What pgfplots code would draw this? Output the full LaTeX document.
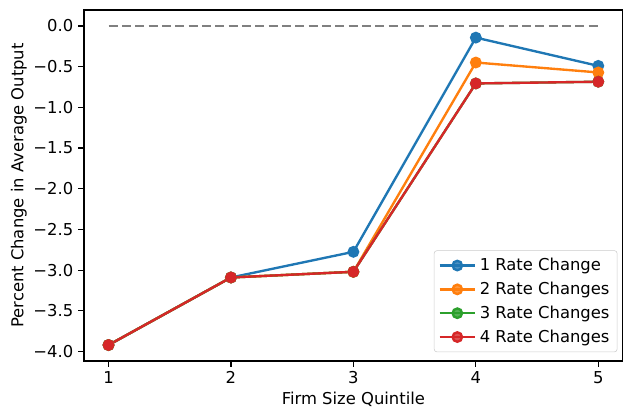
\documentclass[border=0pt]{standalone}
\usepackage{fontspec}
\setmainfont{DejaVu Sans}
\usepackage{pgfplots}
\pgfplotsset{compat=1.18}
\definecolor{tabblue}{HTML}{1F77B4}
\definecolor{taborange}{HTML}{FF7F0E}
\definecolor{tabgreen}{HTML}{2CA02C}
\definecolor{tabred}{HTML}{D62728}
\begin{document}
\begin{tikzpicture}
% fixed page frame, 0.72pt per pixel
\path[use as bounding box] (0,0) rectangle (449.28pt,299.52pt);
\begin{axis}[
  at={(60.5pt,39.6pt)}, anchor=south west,
  scale only axis,
  width=387.9pt, height=252.7pt,
  xmin=0.8, xmax=5.2,
  ymin=-4.116, ymax=0.196,
  xtick={1,2,3,4,5},
  ytick={-4,-3.5,-3,-2.5,-2,-1.5,-1,-0.5,0},
  yticklabels={−4.0,−3.5,−3.0,−2.5,−2.0,−1.5,−1.0,−0.5,0.0},
  /pgf/number format/assume math mode=true,
  tick align=outside,
  tick pos=left,
  major tick length=4.2pt,
  tick style={black, line width=0.85pt},
  axis line style={line width=0.85pt},
  ticklabel style={font=\fontsize{11.8}{14}\selectfont},
  label style={font=\fontsize{11.8}{14}\selectfont},
  xlabel style={yshift=1pt},
  ylabel style={yshift=-2pt},
  xlabel={Firm Size Quintile},
  ylabel={Percent Change in Average Output},
  legend cell align=left,
  legend style={font=\fontsize{11.8}{14}\selectfont, draw=black!20, rounded corners=2pt,
    fill=white, fill opacity=0.8, text opacity=1, at={(0.99,0.025)}, anchor=south east,
    inner sep=3pt, row sep=1.7pt,
    nodes={inner sep=2.5pt}},
  legend image code/.code={
    \draw[#1, line width=1.7pt, mark repeat=2, mark phase=2] plot coordinates {(0cm,0cm) (0.45cm,0cm) (0.9cm,0cm)};
  },
  every axis plot/.append style={line width=1.7pt, mark=*, mark size=3.4pt},
]
\addplot[gray, dash pattern=on 6.7pt off 2.9pt, line width=1.6pt, mark=none, forget plot]
  coordinates {(1,0) (2,0) (3,0) (4,0) (5,0)};
\addplot[tabblue, mark options={fill=tabblue}] coordinates {(1,-3.92) (2,-3.09) (3,-2.775) (4,-0.143) (5,-0.49)};
\addlegendentry{1 Rate Change}
\addplot[taborange, mark options={fill=taborange}] coordinates {(1,-3.92) (2,-3.09) (3,-3.02) (4,-0.449) (5,-0.571)};
\addlegendentry{2 Rate Changes}
\addplot[tabgreen, mark options={fill=tabgreen}] coordinates {(1,-3.92) (2,-3.09) (3,-3.02) (4,-0.706) (5,-0.685)};
\addlegendentry{3 Rate Changes}
\addplot[tabred, mark options={fill=tabred}] coordinates {(1,-3.92) (2,-3.09) (3,-3.02) (4,-0.706) (5,-0.685)};
\addlegendentry{4 Rate Changes}
\end{axis}
\end{tikzpicture}
\end{document}
